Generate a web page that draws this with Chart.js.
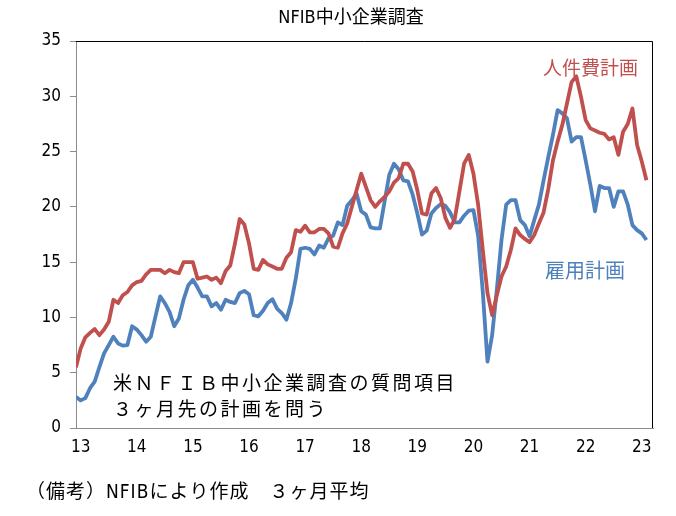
<!DOCTYPE html>
<html>
<head>
<meta charset="utf-8">
<script src="https://cdn.jsdelivr.net/npm/chart.js@4/dist/chart.umd.min.js"></script>
<style>
  html, body { margin: 0; padding: 0; background: #fff; }
  #wrap { width: 676px; height: 516px; }
</style>
</head>
<body>
<div id="wrap"><canvas id="chart" width="676" height="516"></canvas></div>
<script>
// 3ヶ月平均, monthly from Dec 2012
const startYear = 12;
const startMonth = 12;

const laborCost = [
  5.5, 7.2, 8.2, 8.6, 8.95, 8.4, 8.9, 9.6, 11.6, 11.3, 12.0, 12.3,
  12.9, 13.2, 13.3, 13.9, 14.3, 14.3, 14.3, 14.0, 14.3, 14.1, 14.0, 15.0,
  15.0, 15.0, 13.5, 13.6, 13.7, 13.4, 13.6, 13.1, 14.2, 14.7, 16.7, 18.9,
  18.4, 16.7, 14.4, 14.3, 15.2, 14.8, 14.6, 14.4, 14.4, 15.4, 15.9, 17.9,
  17.75, 18.3, 17.7, 17.7, 18.0, 18.0, 17.6, 16.4, 16.3, 17.6, 18.5, 20.0,
  21.5, 23.0, 21.8, 20.6, 20.0, 20.5, 20.9, 21.4, 22.2, 22.6, 23.9, 23.9,
  23.2, 21.5, 19.4, 19.3, 21.2, 21.7, 20.8, 19.0, 18.1, 18.9, 21.4, 23.9,
  24.7, 23.0, 20.2, 16.1, 12.2, 10.2, 12.0, 13.7, 14.6, 16.1, 18.05, 17.45,
  17.1, 16.8, 17.45, 18.5, 19.5, 21.6, 24.2, 25.9, 27.4, 29.35, 31.3, 31.8,
  29.95, 27.85, 27.1, 26.9, 26.7, 26.6, 26.1, 26.3, 24.7, 26.8, 27.5, 28.9,
  25.6, 24.1, 22.4
];

const hiring = [
  2.8, 2.5, 2.7, 3.6, 4.2, 5.5, 6.75, 7.5, 8.25, 7.65, 7.45, 7.5,
  9.2, 8.9, 8.4, 7.8, 8.25, 10.1, 11.9, 11.3, 10.5, 9.2, 9.9, 11.6,
  12.9, 13.4, 12.7, 11.9, 11.9, 11.0, 11.3, 10.7, 11.6, 11.4, 11.3, 12.2,
  12.4, 12.1, 10.2, 10.1, 10.6, 11.3, 11.65, 10.8, 10.4, 9.8, 11.3, 13.5,
  16.2, 16.3, 16.2, 15.7, 16.5, 16.3, 17.15, 17.4, 18.6, 18.35, 20.1, 20.6,
  21.2, 19.6, 19.3, 18.15, 18.05, 18.05, 20.5, 22.9, 23.9, 23.4, 22.4, 22.3,
  21.1, 19.4, 17.5, 17.85, 19.4, 19.9, 20.25, 20.1, 19.5, 18.6, 18.6, 19.2,
  19.65, 19.7, 17.4, 12.3, 6.0, 8.4, 12.5, 17.0, 20.2, 20.6, 20.6, 18.8,
  18.35, 17.35, 18.8, 20.2, 22.4, 24.5, 26.5, 28.75, 28.45, 28.0, 25.9, 26.3,
  26.3, 24.2, 22.0, 19.6, 21.9, 21.7, 21.7, 20.0, 21.4, 21.4, 20.2, 18.35,
  17.9, 17.6, 17.0
];

const yearTicks = [13, 14, 15, 16, 17, 18, 19, 20, 21, 22, 23];
const yTicks = [0, 5, 10, 15, 20, 25, 30, 35];

const monthX = i => startYear + (startMonth - 1 + i) / 12;
const toPoints = arr => arr.map((v, i) => ({ x: monthX(i), y: v }));

const RED = '#C0504D';
const BLUE = '#4F81BD';
const AXIS = '#8C8C8C';
const narrow = "'DejaVu Sans Condensed', 'Liberation Sans Narrow'";
const jp = "'Noto Sans CJK JP', sans-serif";
const numFont = { family: narrow + ', sans-serif', size: 17 };

const textPlugin = {
  id: 'texts',
  afterDraw(chart) {
    const { ctx, chartArea: a } = chart;
    ctx.save();
    // frame top and right
    ctx.strokeStyle = '#000';
    ctx.lineWidth = 1;
    ctx.beginPath();
    ctx.moveTo(a.left, a.top + 0.5);
    ctx.lineTo(a.right - 0.5, a.top + 0.5);
    ctx.lineTo(a.right - 0.5, a.bottom);
    ctx.stroke();

    ctx.textBaseline = 'middle';
    ctx.fillStyle = '#000';
    ctx.textAlign = 'center';
    ctx.font = '18px ' + narrow + ', ' + jp;
    ctx.fillText('NFIB中小企業調査', 351, 18);

    ctx.textAlign = 'left';
    ctx.font = '19px ' + jp;
    ctx.fillStyle = RED;
    ctx.fillText('人件費計画', 543, 68);
    ctx.font = '20px ' + jp;
    ctx.fillStyle = BLUE;
    ctx.fillText('雇用計画', 545, 270);

    ctx.fillStyle = '#000';
    ctx.font = '19px ' + jp;
    ctx.letterSpacing = '2.5px';
    ctx.fillText('米ＮＦＩＢ中小企業調査の質問項目', 113, 383);
    ctx.fillText('３ヶ月先の計画を問う', 113, 409);
    ctx.letterSpacing = '0px';

    ctx.font = '19px ' + narrow + ', ' + jp;
    ctx.letterSpacing = '1px';
    ctx.fillText('（備考）NFIBにより作成　３ヶ月平均', 26, 493);
    ctx.restore();
  }
};

new Chart(document.getElementById('chart'), {
  type: 'line',
  data: {
    datasets: [
      { label: '人件費計画', data: toPoints(laborCost), borderColor: RED, borderWidth: 3.8 },
      { label: '雇用計画', data: toPoints(hiring), borderColor: BLUE, borderWidth: 3.8 }
    ]
  },
  options: {
    responsive: false,
    animation: false,
    devicePixelRatio: 1,
    layout: { padding: { top: 41, right: 23, left: 0, bottom: 0 } },
    elements: { point: { radius: 0 }, line: { tension: 0, borderJoinStyle: 'round' } },
    plugins: { legend: { display: false }, tooltip: { enabled: false } },
    scales: {
      x: {
        type: 'linear',
        min: monthX(0),
        max: monthX(0) + 123.4 / 12,
        afterFit(s) { s.height = 88; },
        afterBuildTicks(s) { s.ticks = yearTicks.map(v => ({ value: v })); },
        grid: { display: false },
        border: { color: AXIS, width: 1 },
        ticks: { color: '#000', font: numFont, padding: 1, maxRotation: 0, autoSkip: false,
                 callback: v => String(v) }
      },
      y: {
        min: 0,
        max: 35,
        afterFit(s) { s.width = 76; },
        afterBuildTicks(s) { s.ticks = yTicks.map(v => ({ value: v })); },
        grid: { drawOnChartArea: false, drawTicks: true, tickLength: 6, color: AXIS },
        border: { color: AXIS, width: 1 },
        ticks: { color: '#000', font: numFont, padding: 9 }
      }
    }
  },
  plugins: [textPlugin]
});
</script>
</body>
</html>
